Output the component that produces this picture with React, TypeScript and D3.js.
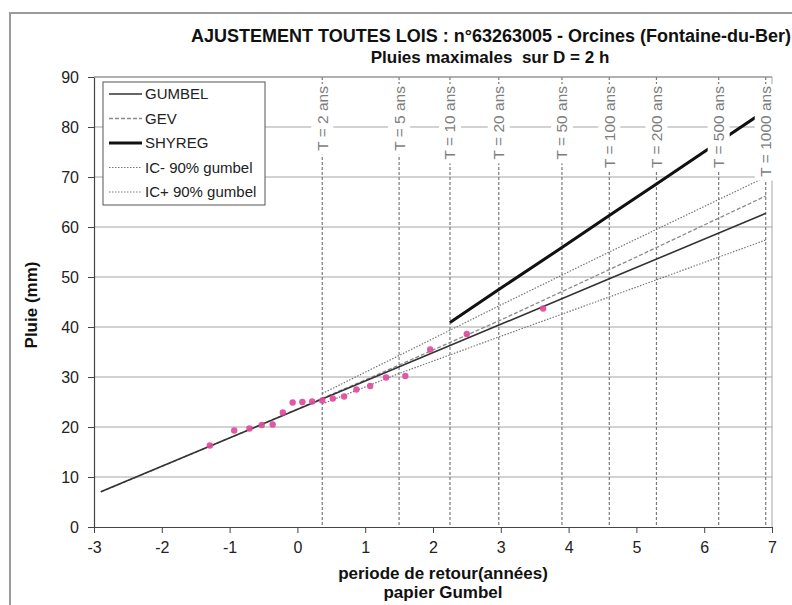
import React, { useEffect, useRef } from "react";
import * as d3 from "d3";

const W = 792;
const H = 605;
const FONT = "'Liberation Sans', Arial, Helvetica, sans-serif";

// Return periods (years) and their Gumbel reduced variates
const returnPeriods = [2, 5, 10, 20, 50, 100, 200, 500, 1000];
const returnPeriodU = [0.3665, 1.4999, 2.2504, 2.9702, 3.9019, 4.6001, 5.2958, 6.2136, 6.9073];

// Observed annual maxima (Hazen plotting positions on Gumbel paper)
const obsU = [
  -1.2913, -0.9317, -0.7071, -0.5257, -0.3649, -0.2149, -0.0702, 0.073, 0.2178, 0.3665,
  0.5224, 0.689, 0.8706, 1.0735, 1.3082, 1.5916, 1.9584, 2.4981, 3.6246,
];
const obsP = [
  16.3, 19.3, 19.7, 20.4, 20.5, 22.9, 24.9, 25.0, 25.1, 25.3,
  25.7, 26.1, 27.5, 28.2, 29.9, 30.2, 35.5, 38.6, 43.7,
];

// Fitted laws
const gumbelU = [-2.9, 0.3665, 2.2504, 4.6001, 6.9073];
const gumbelP = [7.03, 25.58, 36.28, 49.63, 62.73];

const gevU = [-2.9, -1, 0, 1, 2, 3, 4, 5, 6, 6.9073];
const gevP = [7.0, 17.8, 23.6, 29.4, 35.4, 41.4, 47.7, 54.0, 60.4, 66.2];

const shyregU = [2.2504, 2.9702, 3.9019, 4.6001, 5.2958, 6.2136, 6.9073];
const shyregP = [40.9, 47.5, 55.9, 62.3, 68.6, 77.0, 83.3];

const icMinusU = [0.3665, 1.4999, 2.9702, 4.6001, 6.9073];
const icMinusP = [24.6, 30.7, 38.0, 46.0, 57.4];

const icPlusU = [0.3665, 1.4999, 2.9702, 4.6001, 6.9073];
const icPlusP = [26.7, 34.3, 44.2, 55.0, 70.0];

const xTicks = [-3, -2, -1, 0, 1, 2, 3, 4, 5, 6, 7];
const yTicks = [0, 10, 20, 30, 40, 50, 60, 70, 80, 90];

const legendLabels = ["GUMBEL", "GEV", "SHYREG", "IC- 90% gumbel", "IC+ 90% gumbel"];

type Style = { stroke: string; width: number; dash: string | null };
const styles: Style[] = [
  { stroke: "#333", width: 1.6, dash: null },
  { stroke: "#8a8a8a", width: 1.3, dash: "4,2" },
  { stroke: "#111", width: 3, dash: null },
  { stroke: "#777", width: 1.2, dash: "1.5,1.5" },
  { stroke: "#777", width: 1.2, dash: "1.5,1.5" },
];

export default function App() {
  const ref = useRef<SVGSVGElement | null>(null);

  useEffect(() => {
    const svg = d3.select(ref.current);
    svg.selectAll("*").remove();

    const x = d3.scaleLinear().domain([-3, 7]).range([94, 772]);
    const y = d3.scaleLinear().domain([0, 90]).range([527, 77]);

    svg.append("rect").attr("width", W).attr("height", H).attr("fill", "#fff");

    // outer frame
    svg.append("rect")
      .attr("x", 10).attr("y", 13).attr("width", 820).attr("height", 700)
      .attr("fill", "none").attr("stroke", "#9a9a9a").attr("stroke-width", 2);

    // titles
    svg.append("text")
      .attr("x", 491).attr("y", 42).attr("text-anchor", "middle")
      .attr("font-family", FONT).attr("font-size", 18).attr("font-weight", "bold").attr("fill", "#111")
      .text("AJUSTEMENT TOUTES LOIS : n°63263005 - Orcines (Fontaine-du-Ber)");
    svg.append("text")
      .attr("x", 490).attr("y", 63).attr("text-anchor", "middle")
      .attr("font-family", FONT).attr("font-size", 17).attr("font-weight", "bold").attr("fill", "#111")
      .style("white-space", "pre")
      .text("Pluies maximales  sur D = 2 h");

    const plot = svg.append("g");

    // horizontal grid
    plot.selectAll("line.hg").data(yTicks.filter((v) => v > 0)).join("line")
      .attr("x1", x(-3)).attr("x2", x(7))
      .attr("y1", (d) => y(d)).attr("y2", (d) => y(d))
      .attr("stroke", "#a5a5a5").attr("stroke-width", 1);
    // right frame
    plot.append("line")
      .attr("x1", x(7)).attr("x2", x(7)).attr("y1", y(90)).attr("y2", y(0))
      .attr("stroke", "#a5a5a5");

    // return period verticals
    plot.selectAll("line.rp").data(returnPeriodU).join("line")
      .attr("x1", (d) => x(d)).attr("x2", (d) => x(d))
      .attr("y1", y(90)).attr("y2", y(0))
      .attr("stroke", "#7a7a7a").attr("stroke-width", 1.2).attr("stroke-dasharray", "3,2");

    const line = d3.line<[number, number]>().x((d) => x(d[0])).y((d) => y(d[1]));
    const series: [number[], number[]][] = [
      [gumbelU, gumbelP],
      [gevU, gevP],
      [shyregU, shyregP],
      [icMinusU, icMinusP],
      [icPlusU, icPlusP],
    ];
    const order = [3, 4, 1, 0, 2];
    order.forEach((i) => {
      const [us, ps] = series[i];
      const pts = us.map((u, k) => [u, ps[k]] as [number, number]);
      const st = styles[i];
      plot.append("path")
        .attr("d", line(pts) as string)
        .attr("fill", "none")
        .attr("stroke", st.stroke)
        .attr("stroke-width", st.width)
        .attr("stroke-dasharray", st.dash);
    });

    // observations
    plot.selectAll("circle.obs").data(obsU.map((u, i) => [u, obsP[i]])).join("circle")
      .attr("cx", (d) => x(d[0]))
      .attr("cy", (d) => y(d[1]))
      .attr("r", 3.2)
      .attr("fill", "#e04a9c")
      .attr("opacity", 0.92);

    // return period labels with white backing
    returnPeriods.forEach((T, i) => {
      const cx = x(returnPeriodU[i]);
      const g = plot.append("g");
      const bg = g.append("rect").attr("fill", "#fff");
      const t = g.append("text")
        .attr("transform", `translate(${cx},86) rotate(-90)`)
        .attr("text-anchor", "end")
        .attr("dy", "0.35em")
        .attr("font-family", FONT).attr("font-size", 15.5).attr("fill", "#7d7d7d")
        .text(`T = ${T} ans`);
      const len = (t.node() as SVGTextElement).getComputedTextLength();
      bg.attr("x", cx - 11).attr("width", 22).attr("y", 84).attr("height", len + 6);
    });

    // axes
    const fmt = (d: d3.NumberValue) => String(d).replace("\u2212", "-");
    const ax = plot.append("g").attr("transform", `translate(0,${y(0)})`)
      .call(d3.axisBottom(x).tickValues(xTicks).tickSize(6).tickSizeOuter(0).tickPadding(9).tickFormat(fmt));
    const ay = plot.append("g").attr("transform", `translate(${x(-3)},0)`)
      .call(d3.axisLeft(y).tickValues(yTicks).tickSize(6).tickSizeOuter(0).tickPadding(9).tickFormat(fmt));
    [ax, ay].forEach((a) => {
      a.select(".domain").attr("stroke", "#444").attr("stroke-width", 1.2);
      a.selectAll(".tick line").attr("stroke", "#444");
      a.selectAll(".tick text").attr("font-family", FONT).attr("font-size", 16).attr("fill", "#222");
    });
    // top frame
    plot.append("line")
      .attr("x1", x(-3)).attr("x2", x(7)).attr("y1", y(90)).attr("y2", y(90))
      .attr("stroke", "#8f8f8f");

    // axis titles
    svg.append("text")
      .attr("transform", "translate(37,305) rotate(-90)")
      .attr("text-anchor", "middle")
      .attr("font-family", FONT).attr("font-size", 17).attr("font-weight", "bold").attr("fill", "#111")
      .text("Pluie (mm)");
    svg.append("text")
      .attr("x", 443).attr("y", 579).attr("text-anchor", "middle")
      .attr("font-family", FONT).attr("font-size", 17).attr("font-weight", "bold").attr("fill", "#111")
      .text("periode de retour(années)");
    svg.append("text")
      .attr("x", 443).attr("y", 598).attr("text-anchor", "middle")
      .attr("font-family", FONT).attr("font-size", 17).attr("font-weight", "bold").attr("fill", "#111")
      .text("papier Gumbel");

    // legend
    const lg = svg.append("g");
    lg.append("rect")
      .attr("x", 103).attr("y", 82).attr("width", 162).attr("height", 123)
      .attr("fill", "#fff").attr("stroke", "#555").attr("stroke-width", 1);
    legendLabels.forEach((lab, i) => {
      const cy = 94 + i * 24.5;
      const st = styles[i];
      lg.append("line")
        .attr("x1", 109).attr("x2", 142).attr("y1", cy).attr("y2", cy)
        .attr("stroke", st.stroke).attr("stroke-width", st.width)
        .attr("stroke-dasharray", st.dash);
      lg.append("text")
        .attr("x", 145).attr("y", cy).attr("dy", "0.35em")
        .attr("font-family", FONT).attr("font-size", 15).attr("fill", "#222")
        .text(lab);
    });
  }, []);

  return (
    <svg
      ref={ref}
      width={W}
      height={H}
      style={{ position: "absolute", left: 0, top: 0, display: "block" }}
    />
  );
}
